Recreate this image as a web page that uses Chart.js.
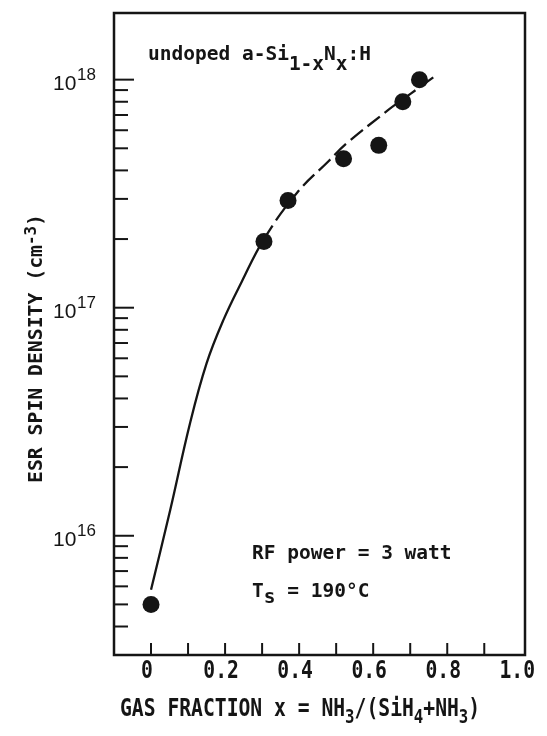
<!DOCTYPE html>
<html>
<head>
<meta charset="utf-8">
<title>ESR spin density vs gas fraction</title>
<script src="https://cdn.jsdelivr.net/npm/chart.js@4.4.1/dist/chart.umd.min.js"></script>
<style>
  html, body { margin: 0; padding: 0; background: #fff; }
  canvas { display: block; }
</style>
</head>
<body>
<canvas id="spinChart" width="547" height="736"></canvas>
<script>
const gasFraction = [0, 0.305, 0.37, 0.52, 0.615, 0.68, 0.725];
const spinDensity = [5.0e15, 1.95e17, 2.95e17, 4.5e17, 5.15e17, 8.0e17, 1.0e18];

// the hand drawn guide line through them
const guideX = [0, 0.052, 0.105, 0.15, 0.195, 0.245, 0.305, 0.395, 0.48, 0.525, 0.64, 0.68, 0.725, 0.775];
const guideY = [5.8e15, 1.3e16, 3.1e16, 5.7e16, 8.8e16, 1.3e17, 2.0e17, 3.2e17, 4.4e17, 5.2e17, 7.35e17, 8.2e17, 9.25e17, 1.06e18];

// axis ticks and labels
const xTickValues = [0, 0.1, 0.2, 0.3, 0.4, 0.5, 0.6, 0.7, 0.8, 0.9];
const xLabelValues = [0, 0.2, 0.4, 0.6, 0.8, 1.0];
const xLabels = ["0", "0.2", "0.4", "0.6", "0.8", "1.0"];
const yDecades = [1e16, 1e17, 1e18];
const yExponents = ["16", "17", "18"];

const MONO = '"DejaVu Sans Mono", monospace';
const SANS = '"Liberation Sans", Arial, sans-serif';
const INK = "#151515";

function toPoints(xs, ys) {
    return xs.map((x, i) => ({ x: x, y: ys[i] }));
}

// draws text runs side by side, a run is [text, yOffset, sizeFactor]
function richText(ctx, x, y, runs, size, sx, family) {
    ctx.save();
    ctx.translate(x, y);
    ctx.scale(sx, 1);
    let cx = 0;
    for (const [txt, dy, f] of runs) {
        ctx.font = "bold " + (size * (f || 1)) + "px " + family;
        ctx.fillText(txt, cx, dy || 0);
        cx += ctx.measureText(txt).width;
    }
    ctx.restore();
}

const frameAndText = {
    id: "frameAndText",
    afterDraw(chart) {
        const ctx = chart.ctx;
        const area = chart.chartArea;
        const xs = chart.scales.x;
        const ys = chart.scales.y;

        ctx.save();
        ctx.strokeStyle = INK;
        ctx.fillStyle = INK;
        ctx.lineWidth = 2.5;
        ctx.strokeRect(area.left, area.top, area.right - area.left, area.bottom - area.top);

        // inward ticks on the bottom axis
        ctx.lineWidth = 2;
        xTickValues.forEach(v => {
            const px = xs.getPixelForValue(v);
            ctx.beginPath();
            ctx.moveTo(px, area.bottom);
            ctx.lineTo(px, area.bottom - 12);
            ctx.stroke();
        });

        // inward ticks on the log axis
        for (let e = 15; e <= 18; e++) {
            for (let m = 1; m <= 9; m++) {
                const v = m * Math.pow(10, e);
                if (v <= ys.min || v >= ys.max) continue;
                const py = ys.getPixelForValue(v);
                ctx.beginPath();
                ctx.moveTo(area.left, py);
                ctx.lineTo(area.left + (m === 1 ? 20 : 14), py);
                ctx.stroke();
            }
        }

        // x tick labels
        ctx.textAlign = "center";
        ctx.textBaseline = "alphabetic";
        xLabelValues.forEach((v, i) => {
            const px = xs.getPixelForValue(v) - 4;
            ctx.save();
            ctx.translate(px, 678);
            ctx.scale(0.82, 1);
            ctx.font = "bold 24px " + MONO;
            ctx.fillText(xLabels[i], 0, 0);
            ctx.restore();
        });

        // y tick labels, 10 with exponent
        ctx.textAlign = "left";
        yDecades.forEach((v, i) => {
            const py = ys.getPixelForValue(v);
            ctx.font = "21px " + SANS;
            ctx.fillText("10", 53, py + 10);
            ctx.font = "17px " + SANS;
            ctx.fillText(yExponents[i], 77, py);
        });

        // axis titles
        richText(ctx, 120, 716, [
            ["GAS FRACTION x = NH"], ["3", 7, 0.8], ["/(SiH"], ["4", 7, 0.8],
            ["+NH"], ["3", 7, 0.8], [")"]
        ], 24, 0.82, MONO);

        ctx.save();
        ctx.translate(42, 483);
        ctx.rotate(-Math.PI / 2);
        richText(ctx, 0, 0, [["ESR SPIN DENSITY (cm"], ["-3", -6, 0.8], [")"]], 19, 1.04, MONO);
        ctx.restore();

        // notes inside the frame
        richText(ctx, 148, 60, [
            ["undoped a-Si"], ["1-x", 10], ["N"], ["x", 10], [":H"]
        ], 19.5, 1, MONO);
        richText(ctx, 252, 559, [["RF power = 3 watt"]], 19.5, 1, MONO);
        richText(ctx, 252, 597, [["T"], ["s", 6], [" = 190°C"]], 19.5, 1, MONO);

        ctx.restore();
    }
};

function drawChart() {
    new Chart(document.getElementById("spinChart"), {
        type: "scatter",
        data: {
            datasets: [{
                label: "ESR spin density",
                data: toPoints(gasFraction, spinDensity),
                pointRadius: 8.5,
                pointBackgroundColor: INK,
                pointBorderColor: INK,
                pointBorderWidth: 0,
                showLine: false,
                order: 0
            }, {
                label: "guide",
                data: toPoints(guideX, guideY),
                showLine: true,
                pointRadius: 0,
                borderColor: INK,
                borderWidth: 2.3,
                tension: 0.4,
                segment: {
                    borderDash: ctx => ctx.p0.parsed.x >= 0.3 ? [16, 6] : undefined
                },
                order: 1
            }]
        },
        options: {
            responsive: false,
            animation: false,
            layout: { padding: { left: 114, right: 22, top: 13, bottom: 81 } },
            plugins: {
                legend: { display: false },
                tooltip: { enabled: false }
            },
            scales: {
                x: { type: "linear", min: -0.1, max: 1.01, display: false },
                y: { type: "logarithmic", min: 3e15, max: 1.96e18, display: false }
            }
        },
        plugins: [frameAndText]
    });
}

document.addEventListener("DOMContentLoaded", drawChart);
</script>
</body>
</html>
